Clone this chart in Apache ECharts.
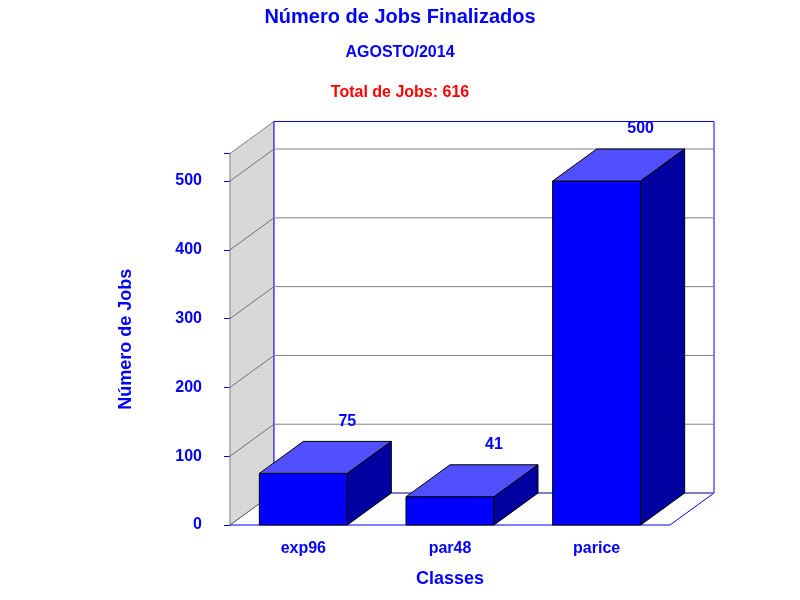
<!DOCTYPE html>
<html><head><meta charset="utf-8">
<script src="https://cdn.jsdelivr.net/npm/echarts@6/dist/echarts.min.js"></script>
<style>html,body{margin:0;background:#fff}#c{width:800px;height:600px}</style>
</head><body><div id="c"></div>
<script>
const categories = ['exp96', 'par48', 'parice'];
const values = [75, 41, 500];
const ticks = [0, 100, 200, 300, 400, 500];
const DX = 44, DY = -32;
const F = 'Liberation Sans, Arial, sans-serif';
const chart = echarts.init(document.getElementById('c'));

function wallItem(params, api) {
  const cs = params.coordSys;
  const x0 = cs.x, x1 = cs.x + cs.width, yt = cs.y, yb = cs.y + cs.height;
  const ch = [];
  if (params.dataIndex === 0) {
    ch.push({type:'polygon', shape:{points:[[x0,yb],[x0+DX,yb+DY],[x0+DX,yt+DY],[x0,yt]]}, style:{fill:'#D8D8D8', stroke:'#808080', lineWidth:1}});
    ch.push({type:'rect', shape:{x:x0+DX, y:yt+DY, width:cs.width, height:cs.height}, style:{fill:'#fff', stroke:'#0000FF', lineWidth:1}});
    ch.push({type:'polyline', shape:{points:[[x0,yb],[x1,yb],[x1+DX,yb+DY]]}, style:{fill:null, stroke:'#0000FF', lineWidth:1}});
  }
  const y = api.coord([0, api.value(0)])[1];
  ch.push({type:'line', shape:{x1:x0, y1:y, x2:x0+DX, y2:y+DY}, style:{stroke:'#707070', lineWidth:1}});
  ch.push({type:'line', shape:{x1:x0+DX, y1:y+DY, x2:x1+DX, y2:y+DY}, style:{stroke:'#808080', lineWidth:1}});
  return {type:'group', children:ch};
}

function barItem(params, api) {
  const p = api.coord([api.value(0), api.value(1)]);
  const b = api.coord([api.value(0), 0])[1];
  const w = api.size([1, 0])[0] * 0.6;
  const l = p[0] - w/2, r = p[0] + w/2, t = p[1];
  return {type:'group', children:[
    {type:'rect', shape:{x:l, y:t, width:w, height:b-t}, style:{fill:'#0000FF', stroke:'#000', lineWidth:1}},
    {type:'polygon', shape:{points:[[l,t],[r,t],[r+DX,t+DY],[l+DX,t+DY]]}, style:{fill:'#5050FF', stroke:'#000', lineWidth:1}},
    {type:'polygon', shape:{points:[[r,t],[r+DX,t+DY],[r+DX,b+DY],[r,b]]}, style:{fill:'#0000A0', stroke:'#000', lineWidth:1}},
    {type:'text', style:{x:p[0]+DX, y:t+DY-12, text:String(api.value(1)), fill:'#0000FF', font:'bold 16px '+F, align:'center', verticalAlign:'bottom'}}
  ]};
}

chart.setOption({
  animation:false,
  title:[
    {text:'Número de Jobs Finalizados', left:'center', top:2, textStyle:{color:'#0000FF', fontSize:20, fontWeight:'bold', fontFamily:F}},
    {text:'AGOSTO/2014', left:'center', top:40, textStyle:{color:'#0000FF', fontSize:16, fontWeight:'bold', fontFamily:F}},
    {text:'Total de Jobs: 616', left:'center', top:80, textStyle:{color:'#FF0000', fontSize:16, fontWeight:'bold', fontFamily:F}}
  ],
  grid:{left:230, right:130, top:153.5, bottom:75},
  xAxis:{type:'category', data:categories, name:'Classes', nameLocation:'middle', nameGap:45,
    nameTextStyle:{color:'#0000FF', fontSize:18, fontWeight:'bold', fontFamily:F},
    axisLine:{show:false}, axisTick:{show:false},
    axisLabel:{color:'#0000FF', fontSize:16, fontWeight:'bold', fontFamily:F, margin:16}},
  yAxis:{type:'value', min:0, max:540, interval:100, name:'Número de Jobs', nameLocation:'middle', nameGap:95,
    nameTextStyle:{color:'#0000FF', fontSize:18, fontWeight:'bold', fontFamily:F},
    splitLine:{show:false}, axisLine:{show:true, lineStyle:{color:'#0000FF'}},
    axisTick:{show:true, length:6, lineStyle:{color:'#0000FF'}},
    axisLabel:{color:'#0000FF', fontSize:16, fontWeight:'bold', fontFamily:F, margin:28,
      customValues:ticks}},
  series:[
    {type:'custom', renderItem:wallItem, data:ticks.map(v=>[v]), encode:{y:0}, z:1, silent:true},
    {type:'custom', renderItem:barItem, data:categories.map((c,i)=>[i, values[i]]), encode:{x:0, y:1}, z:2}
  ]
});
</script></body></html>
